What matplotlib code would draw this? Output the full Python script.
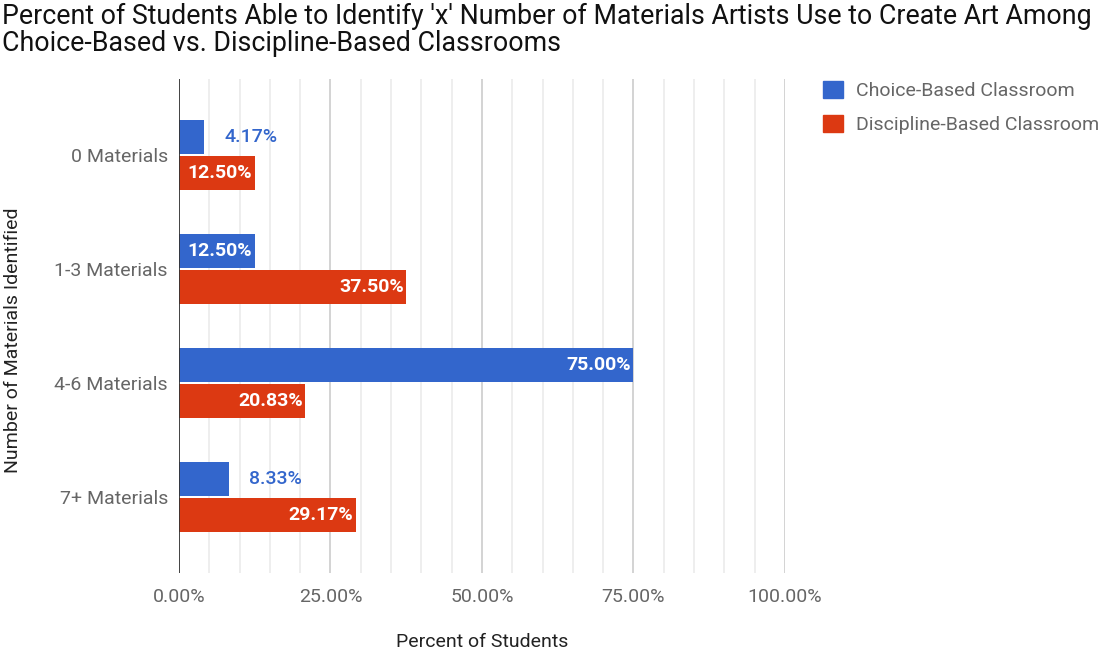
import matplotlib
matplotlib.use("Agg")
import matplotlib.pyplot as plt
from matplotlib.patches import Rectangle
import numpy as np

plt.rcParams['font.family'] = ['Roboto', 'DejaVu Sans']

categories = ['0 Materials', '1-3 Materials', '4-6 Materials', '7+ Materials']
choice_based = [4.17, 12.50, 75.00, 8.33]
discipline_based = [12.50, 37.50, 20.83, 29.17]
series_names = ['Choice-Based Classroom', 'Discipline-Based Classroom']
xticks = [0, 25, 50, 75, 100]

blue = '#3366cc'
red = '#dc3912'
gray_text = '#666666'

fig = plt.figure(figsize=(11.07, 6.55), dpi=100)
ax = fig.add_axes([0.1617, 0.1252, 0.5474, 0.7542])

y = np.arange(len(categories))
h = 0.30
off = 0.16
bars_c = ax.barh(y - off, choice_based, height=h, color=blue, zorder=3)
bars_d = ax.barh(y + off, discipline_based, height=h, color=red, zorder=3)

def label_bars(bars, values, color):
    for b, v in zip(bars, values):
        yc = b.get_y() + b.get_height() / 2
        txt = f'{v:.2f}%'
        if v >= 10:
            ax.text(v - 0.4, yc, txt, ha='right', va='center', color='white',
                    fontsize=14, fontweight='bold', zorder=4)
        else:
            ax.text(v + 3.3, yc, txt, ha='left', va='center', color=color,
                    fontsize=14, fontweight='medium', zorder=4)

label_bars(bars_c, choice_based, blue)
label_bars(bars_d, discipline_based, red)

ax.set_xlim(0, 100)
ax.set_ylim(3.667, -0.667)

# light gridlines every 5%, darker ones at the labelled ticks
for gx in np.arange(5, 100, 5):
    col = '#cccccc' if gx % 25 == 0 else '#ebebeb'
    ax.axvline(gx, color=col, lw=1.2, zorder=1)
ax.axvline(100, color='#cccccc', lw=1.2, zorder=1)
ax.axvline(0, color='#333333', lw=1.3, zorder=5)

ax.set_xticks(xticks)
ax.set_xticklabels([f'{t:.2f}%' for t in xticks])
ax.set_yticks(y)
ax.set_yticklabels(categories)
ax.tick_params(axis='both', length=0, labelsize=14, labelcolor=gray_text)
ax.tick_params(axis='x', pad=11)
ax.tick_params(axis='y', pad=8)
for s in ax.spines.values():
    s.set_visible(False)

ax.set_xlabel('Percent of Students', fontsize=14, color='#222222')
ax.xaxis.set_label_coords(0.5, -0.140)
ax.xaxis.label.set_va('center')
ax.set_ylabel('Number of Materials Identified', fontsize=14, color='#222222')
ax.yaxis.set_label_coords(-0.274, 0.472)
ax.yaxis.label.set_va('center')

fig.text(0.002, 0.995, "Percent of Students Able to Identify 'x' Number of Materials Artists Use to Create Art Among\nChoice-Based vs. Discipline-Based Classrooms",
         ha='left', va='top', fontsize=19.3, color='#111111', linespacing=1.0)

handles = [Rectangle((0, 0), 1, 1, color=blue), Rectangle((0, 0), 1, 1, color=red)]
fig.legend(handles, series_names, loc='upper left', bbox_to_anchor=(0.728, 0.903),
           frameon=False, fontsize=14, labelcolor=gray_text, handlelength=1.0,
           handleheight=1.0, handletextpad=0.7, labelspacing=0.75)

fig.savefig('out.png', dpi=100)
